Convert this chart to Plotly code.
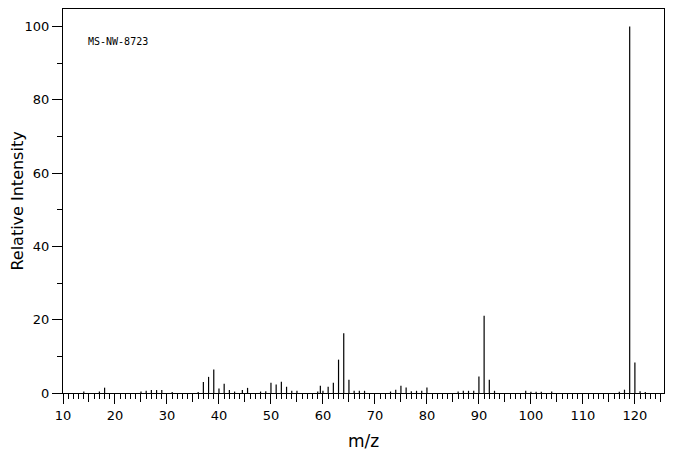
import plotly.graph_objects as go

# peak list (m/z, relative intensity)
mz = [14, 17, 18, 25, 26, 27, 28, 29, 31, 36, 37, 38, 39, 40, 41, 42, 43,
      44.5, 45.5, 48, 49, 50, 51, 52, 53, 54, 55, 59, 59.5, 60, 61, 62, 63,
      64, 65, 66, 67, 68, 73, 74, 75, 76, 77, 78, 79, 80, 86, 87, 88, 89,
      90, 91, 92, 93, 99, 100, 101, 102, 104, 117, 118, 119, 120, 121, 122]
intensity = [0.4, 0.4, 1.45, 0.4, 0.6, 0.8, 0.8, 0.8, 0.3, 0.3, 3.0, 4.4, 6.4,
             1.2, 2.5, 0.8, 0.4, 0.8, 1.4, 0.4, 0.5, 2.8, 2.3, 3.1, 1.7, 0.6,
             0.6, 0.4, 2.0, 0.6, 1.7, 2.8, 9.1, 16.3, 3.6, 0.6, 0.6, 0.6, 0.4,
             0.9, 2.0, 1.5, 0.5, 0.6, 0.6, 1.5, 0.4, 0.6, 0.6, 0.6, 4.5, 21.1,
             3.6, 0.6, 0.6, 0.35, 0.35, 0.35, 0.4, 0.35, 0.9, 100, 8.3, 0.5, 0.3]

label = "MS-NW-8723"
x_title = "m/z"
y_title = "Relative Intensity"

# stick spectrum: one vertical segment per peak
xs, ys = [], []
for m, v in zip(mz, intensity):
    xs += [m, m, None]
    ys += [0, v, None]

fig = go.Figure()
fig.add_trace(go.Scatter(x=xs, y=ys, mode="lines",
                         line=dict(color="black", width=1.2), hoverinfo="skip"))
# dummy trace so the secondary axis (5-unit ticks) is drawn
fig.add_trace(go.Scatter(x=[None], y=[None], xaxis="x2", showlegend=False))

xrange = [10, 125.6]
font = "DejaVu Sans"

# the page body has an 8px margin, so the figure is sized/offset to land on the 676x455 window
fig.update_layout(
    width=668, height=447,
    margin=dict(l=55, r=12, t=1, b=62, autoexpand=False),
    paper_bgcolor="white", plot_bgcolor="white",
    showlegend=False,
    font=dict(family=font, color="black", size=13),
    xaxis=dict(
        range=xrange, showgrid=False, zeroline=False, automargin=False,
        showline=True, linecolor="black", linewidth=1, mirror=True,
        ticks="outside", tick0=10, dtick=10, ticklen=10, tickwidth=1, tickcolor="black",
        minor=dict(ticks="outside", dtick=1, tick0=10, ticklen=5, tickwidth=1, tickcolor="black"),
        tickfont=dict(size=13),
        title=dict(text=x_title, font=dict(size=17), standoff=13),
    ),
    xaxis2=dict(
        range=xrange, overlaying="x", anchor="y", side="bottom", automargin=False,
        showgrid=False, zeroline=False, showline=False,
        ticks="outside", tickvals=list(range(15, 126, 10)), ticklen=8,
        tickwidth=1, tickcolor="black", showticklabels=False,
    ),
    yaxis=dict(
        range=[0, 104.75], showgrid=False, zeroline=False, automargin=False,
        showline=True, linecolor="black", linewidth=1, mirror=True,
        ticks="outside", tick0=0, dtick=20, ticklen=10, tickwidth=1, tickcolor="black",
        minor=dict(ticks="outside", dtick=10, ticklen=5, tickwidth=1, tickcolor="black"),
        tickfont=dict(size=13),
        title=dict(text=y_title, font=dict(size=16), standoff=6),
    ),
    annotations=[dict(
        text=label, xref="paper", yref="paper", x=0.039, y=0.916,
        xanchor="left", yanchor="middle", showarrow=False,
        font=dict(family="DejaVu Sans Mono", size=10, color="black"),
    )],
)

fig.write_html("out.html")
